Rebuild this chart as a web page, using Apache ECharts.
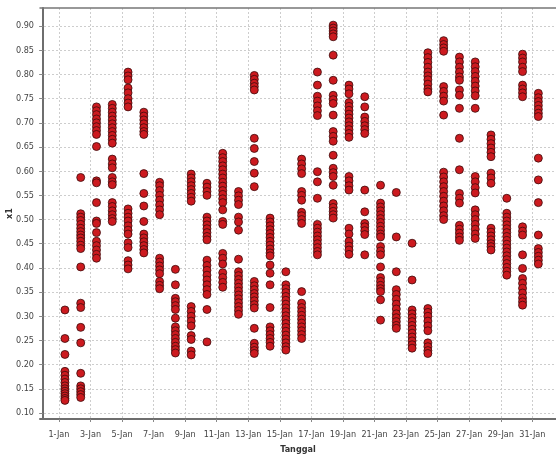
<!DOCTYPE html>
<html>
<head>
<meta charset="utf-8">
<style>
html, body { margin: 0; padding: 0; background: #fff; }
#main { width: 556px; height: 457px; }
</style>
<script src="https://cdn.jsdelivr.net/npm/echarts@6/dist/echarts.min.js"></script>
</head>
<body>
<div id="main"></div>
<script>
// nilai x1 per tanggal
const jan01 = [0.313, 0.254, 0.221, 0.186, 0.178, 0.170, 0.163, 0.156, 0.150, 0.145, 0.140, 0.135, 0.130, 0.126];
const jan02 = [0.587, 0.512, 0.505, 0.498, 0.490, 0.482, 0.475, 0.468, 0.462, 0.455, 0.447, 0.440, 0.402, 0.327, 0.318, 0.277, 0.245, 0.182, 0.156, 0.150, 0.144, 0.138, 0.132];
const jan03 = [0.733, 0.725, 0.717, 0.708, 0.700, 0.692, 0.684, 0.676, 0.651, 0.580, 0.576, 0.535, 0.497, 0.492, 0.473, 0.455, 0.446, 0.437, 0.428, 0.420];
const jan04 = [0.738, 0.730, 0.722, 0.714, 0.706, 0.698, 0.690, 0.682, 0.674, 0.666, 0.658, 0.625, 0.615, 0.607, 0.587, 0.578, 0.572, 0.535, 0.527, 0.518, 0.510, 0.502, 0.496];
const jan05 = [0.805, 0.797, 0.789, 0.772, 0.762, 0.750, 0.741, 0.733, 0.522, 0.513, 0.505, 0.497, 0.487, 0.478, 0.470, 0.452, 0.442, 0.415, 0.406, 0.398];
const jan06 = [0.722, 0.714, 0.706, 0.698, 0.690, 0.682, 0.676, 0.595, 0.554, 0.528, 0.496, 0.470, 0.462, 0.454, 0.446, 0.438, 0.431];
const jan07 = [0.577, 0.570, 0.560, 0.550, 0.540, 0.530, 0.520, 0.510, 0.420, 0.412, 0.404, 0.396, 0.388, 0.372, 0.364, 0.357];
const jan08 = [0.397, 0.365, 0.337, 0.330, 0.322, 0.314, 0.296, 0.278, 0.270, 0.262, 0.254, 0.246, 0.238, 0.231, 0.224];
const jan09 = [0.594, 0.586, 0.578, 0.570, 0.562, 0.554, 0.546, 0.538, 0.320, 0.310, 0.300, 0.290, 0.280, 0.260, 0.252, 0.228, 0.220];
const jan10 = [0.575, 0.567, 0.558, 0.550, 0.505, 0.497, 0.489, 0.481, 0.473, 0.465, 0.458, 0.416, 0.405, 0.395, 0.385, 0.375, 0.365, 0.355, 0.345, 0.314, 0.247];
const jan11 = [0.637, 0.628, 0.620, 0.611, 0.603, 0.594, 0.586, 0.577, 0.569, 0.560, 0.552, 0.543, 0.535, 0.520, 0.496, 0.490, 0.430, 0.420, 0.408, 0.390, 0.380, 0.370, 0.360];
const jan12 = [0.558, 0.549, 0.540, 0.531, 0.505, 0.495, 0.478, 0.418, 0.392, 0.384, 0.376, 0.368, 0.360, 0.352, 0.344, 0.336, 0.328, 0.320, 0.312, 0.304];
const jan13 = [0.798, 0.790, 0.782, 0.775, 0.768, 0.668, 0.647, 0.620, 0.596, 0.568, 0.372, 0.363, 0.355, 0.347, 0.340, 0.332, 0.324, 0.317, 0.275, 0.244, 0.236, 0.229, 0.223];
const jan14 = [0.503, 0.495, 0.487, 0.479, 0.471, 0.463, 0.455, 0.447, 0.439, 0.431, 0.425, 0.406, 0.389, 0.365, 0.318, 0.278, 0.270, 0.262, 0.254, 0.246, 0.238];
const jan15 = [0.392, 0.365, 0.357, 0.349, 0.341, 0.333, 0.325, 0.317, 0.309, 0.301, 0.293, 0.285, 0.277, 0.269, 0.261, 0.253, 0.245, 0.237, 0.230];
const jan16 = [0.625, 0.615, 0.605, 0.595, 0.558, 0.550, 0.540, 0.515, 0.508, 0.500, 0.492, 0.351, 0.327, 0.318, 0.310, 0.302, 0.294, 0.286, 0.278, 0.270, 0.262, 0.254];
const jan17 = [0.805, 0.778, 0.755, 0.745, 0.735, 0.725, 0.715, 0.599, 0.578, 0.544, 0.490, 0.482, 0.474, 0.466, 0.458, 0.450, 0.442, 0.434, 0.427];
const jan18 = [0.902, 0.896, 0.890, 0.884, 0.878, 0.840, 0.788, 0.757, 0.748, 0.740, 0.716, 0.682, 0.672, 0.662, 0.633, 0.606, 0.597, 0.589, 0.571, 0.533, 0.525, 0.517, 0.510, 0.503];
const jan19 = [0.778, 0.770, 0.760, 0.742, 0.734, 0.726, 0.718, 0.710, 0.702, 0.694, 0.686, 0.678, 0.670, 0.589, 0.580, 0.570, 0.561, 0.482, 0.470, 0.455, 0.445, 0.437, 0.428];
const jan20 = [0.754, 0.733, 0.712, 0.703, 0.694, 0.686, 0.678, 0.561, 0.516, 0.492, 0.485, 0.477, 0.469, 0.427];
const jan21 = [0.571, 0.534, 0.526, 0.518, 0.510, 0.502, 0.494, 0.486, 0.478, 0.470, 0.464, 0.444, 0.435, 0.427, 0.402, 0.380, 0.372, 0.364, 0.357, 0.351, 0.334, 0.292];
const jan22 = [0.556, 0.464, 0.392, 0.355, 0.345, 0.335, 0.325, 0.315, 0.305, 0.297, 0.289, 0.281, 0.275];
const jan23 = [0.451, 0.375, 0.313, 0.305, 0.297, 0.289, 0.281, 0.273, 0.265, 0.257, 0.249, 0.241, 0.234];
const jan24 = [0.845, 0.835, 0.825, 0.815, 0.805, 0.797, 0.789, 0.780, 0.770, 0.764, 0.316, 0.308, 0.300, 0.290, 0.280, 0.270, 0.245, 0.237, 0.229, 0.223];
const jan25 = [0.870, 0.862, 0.855, 0.848, 0.775, 0.765, 0.755, 0.745, 0.716, 0.598, 0.588, 0.578, 0.568, 0.558, 0.548, 0.538, 0.528, 0.518, 0.508, 0.500];
const jan26 = [0.836, 0.826, 0.815, 0.805, 0.795, 0.788, 0.768, 0.757, 0.730, 0.668, 0.603, 0.554, 0.544, 0.534, 0.488, 0.480, 0.472, 0.464, 0.457];
const jan27 = [0.826, 0.816, 0.806, 0.796, 0.786, 0.776, 0.766, 0.756, 0.730, 0.589, 0.578, 0.566, 0.555, 0.520, 0.510, 0.500, 0.490, 0.480, 0.470, 0.461];
const jan28 = [0.675, 0.666, 0.657, 0.648, 0.639, 0.630, 0.596, 0.586, 0.575, 0.482, 0.474, 0.466, 0.458, 0.450, 0.444, 0.437];
const jan29 = [0.544, 0.513, 0.505, 0.497, 0.489, 0.481, 0.473, 0.465, 0.457, 0.449, 0.441, 0.433, 0.425, 0.417, 0.409, 0.401, 0.393, 0.385];
const jan30 = [0.842, 0.834, 0.826, 0.815, 0.806, 0.778, 0.770, 0.762, 0.754, 0.485, 0.476, 0.468, 0.427, 0.399, 0.378, 0.368, 0.358, 0.348, 0.338, 0.330, 0.323];
const jan31 = [0.761, 0.752, 0.744, 0.736, 0.728, 0.720, 0.713, 0.627, 0.582, 0.535, 0.468, 0.440, 0.432, 0.424, 0.416, 0.408];

const columns = [jan01, jan02, jan03, jan04, jan05, jan06, jan07, jan08, jan09, jan10,
    jan11, jan12, jan13, jan14, jan15, jan16, jan17, jan18, jan19, jan20,
    jan21, jan22, jan23, jan24, jan25, jan26, jan27, jan28, jan29, jan30, jan31];

// label sumbu
const xTicks = [1, 3, 5, 7, 9, 11, 13, 15, 17, 19, 21, 23, 25, 27, 29, 31];
const yTicks = [0.10, 0.15, 0.20, 0.25, 0.30, 0.35, 0.40, 0.45, 0.50, 0.55, 0.60, 0.65, 0.70, 0.75, 0.80, 0.85, 0.90];

const points = [];
columns.forEach((vals, i) => {
    vals.forEach(v => points.push([i + 1, v]));
});

const labelFont = '"DejaVu Sans Condensed", "Liberation Sans", sans-serif';
const gridLine = { show: true, lineStyle: { color: '#cdcdcd', type: [2, 2], width: 1 } };

const myChart = echarts.init(document.getElementById('main'));
myChart.setOption({
    animation: false,
    backgroundColor: '#fff',
    grid: { left: 40, top: 8, right: 0, bottom: 38, outerBoundsMode: 'none' },
    xAxis: [{
        type: 'value',
        min: -0.2,
        max: 32.5,
        name: 'Tanggal',
        nameLocation: 'middle',
        nameGap: 26,
        nameMoveOverlap: false,
        nameTextStyle: { fontFamily: labelFont, fontWeight: 'bold', fontSize: 9, color: '#333' },
        axisLine: { show: true, lineStyle: { color: '#6e6e6e', width: 2 } },
        axisTick: { show: true, length: 3, customValues: xTicks, lineStyle: { color: '#888' } },
        axisLabel: {
            customValues: xTicks,
            formatter: v => v + '-Jan',
            fontFamily: labelFont, fontSize: 9, color: '#444', margin: 11
        },
        splitLine: gridLine
    }, {
        type: 'value',
        position: 'top',
        min: -0.2,
        max: 32.5,
        axisLine: { show: true, onZero: false, lineStyle: { color: '#777', width: 1.5 } },
        axisTick: { show: false },
        axisLabel: { show: false },
        splitLine: { show: false }
    }],
    yAxis: {
        type: 'value',
        min: 0.0875,
        max: 0.9375,
        name: 'x1',
        nameLocation: 'middle',
        nameGap: 26,
        nameMoveOverlap: false,
        nameRotate: 90,
        nameTextStyle: { fontFamily: labelFont, fontWeight: 'bold', fontSize: 9, color: '#333' },
        axisLine: { show: true, lineStyle: { color: '#6e6e6e', width: 2 } },
        axisTick: { show: true, length: 4, customValues: yTicks, lineStyle: { color: '#888' } },
        axisLabel: {
            customValues: yTicks,
            formatter: v => v.toFixed(2),
            fontFamily: labelFont, fontSize: 9, color: '#444', margin: 6
        },
        splitLine: gridLine
    },
    series: [{
        type: 'scatter',
        data: points,
        symbolSize: 8,
        symbolOffset: [6, 0],
        itemStyle: { color: '#cc1a1f', borderColor: '#3b0b0b', borderWidth: 0.8, opacity: 1 }
    }]
});
</script>
</body>
</html>
